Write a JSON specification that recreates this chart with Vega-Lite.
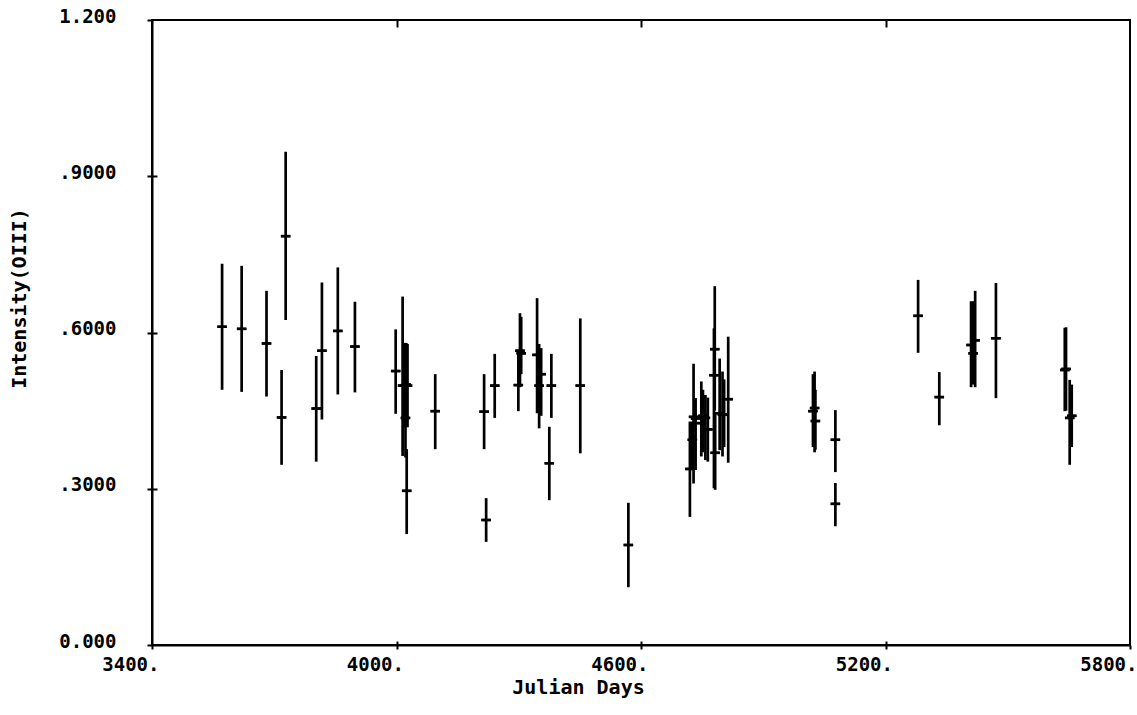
{
  "$schema": "https://vega.github.io/schema/vega-lite/v6.json",
  "width": 978,
  "height": 625,
  "autosize": {"type": "none"},
  "padding": {"left": 152, "top": 20, "right": 7, "bottom": 70},
  "background": "white",
  "config": {
    "view": {"stroke": "black", "strokeWidth": 2},
    "axis": {"grid": false, "domainColor": "black", "tickColor": "black", "labelColor": "black", "titleColor": "black",
      "labelFont": "DejaVu Sans Mono", "titleFont": "DejaVu Sans Mono", "labelFontWeight": "bold", "titleFontWeight": "bold",
      "labelFontSize": 19, "titleFontSize": 20, "domainWidth": 2, "tickWidth": 2}
  },
  "data": {"values": [
    {"jd": 3572, "mid": 0.611, "lo": 0.490, "hi": 0.732},
    {"jd": 3620, "mid": 0.607, "lo": 0.486, "hi": 0.728},
    {"jd": 3681, "mid": 0.579, "lo": 0.477, "hi": 0.680},
    {"jd": 3718, "mid": 0.437, "lo": 0.346, "hi": 0.528},
    {"jd": 3728, "mid": 0.785, "lo": 0.624, "hi": 0.947},
    {"jd": 3803, "mid": 0.454, "lo": 0.352, "hi": 0.555},
    {"jd": 3817, "mid": 0.565, "lo": 0.433, "hi": 0.696},
    {"jd": 3856, "mid": 0.603, "lo": 0.481, "hi": 0.725},
    {"jd": 3898, "mid": 0.573, "lo": 0.485, "hi": 0.659},
    {"jd": 3998, "mid": 0.526, "lo": 0.444, "hi": 0.606},
    {"jd": 4015, "mid": 0.498, "lo": 0.363, "hi": 0.669},
    {"jd": 4020, "mid": 0.498, "lo": 0.417, "hi": 0.580},
    {"jd": 4022, "mid": 0.436, "lo": 0.360, "hi": 0.510},
    {"jd": 4024, "mid": 0.500, "lo": 0.420, "hi": 0.580},
    {"jd": 4027, "mid": 0.498, "lo": 0.418, "hi": 0.578},
    {"jd": 4025, "mid": 0.296, "lo": 0.213, "hi": 0.376},
    {"jd": 4095, "mid": 0.449, "lo": 0.376, "hi": 0.520},
    {"jd": 4215, "mid": 0.448, "lo": 0.376, "hi": 0.520},
    {"jd": 4220, "mid": 0.240, "lo": 0.198, "hi": 0.282},
    {"jd": 4241, "mid": 0.498, "lo": 0.436, "hi": 0.559},
    {"jd": 4299, "mid": 0.499, "lo": 0.449, "hi": 0.565},
    {"jd": 4303, "mid": 0.565, "lo": 0.495, "hi": 0.637},
    {"jd": 4306, "mid": 0.560, "lo": 0.520, "hi": 0.630},
    {"jd": 4345, "mid": 0.557, "lo": 0.445, "hi": 0.666},
    {"jd": 4350, "mid": 0.498, "lo": 0.416, "hi": 0.578},
    {"jd": 4355, "mid": 0.520, "lo": 0.440, "hi": 0.570},
    {"jd": 4380, "mid": 0.498, "lo": 0.436, "hi": 0.559},
    {"jd": 4375, "mid": 0.349, "lo": 0.278, "hi": 0.419},
    {"jd": 4451, "mid": 0.498, "lo": 0.368, "hi": 0.627},
    {"jd": 4569, "mid": 0.192, "lo": 0.111, "hi": 0.273},
    {"jd": 4720, "mid": 0.338, "lo": 0.246, "hi": 0.429},
    {"jd": 4726, "mid": 0.394, "lo": 0.336, "hi": 0.429},
    {"jd": 4729, "mid": 0.438, "lo": 0.310, "hi": 0.540},
    {"jd": 4734, "mid": 0.435, "lo": 0.336, "hi": 0.474},
    {"jd": 4748, "mid": 0.426, "lo": 0.362, "hi": 0.506},
    {"jd": 4752, "mid": 0.440, "lo": 0.370, "hi": 0.490},
    {"jd": 4758, "mid": 0.436, "lo": 0.355, "hi": 0.480},
    {"jd": 4764, "mid": 0.414, "lo": 0.352, "hi": 0.475},
    {"jd": 4779, "mid": 0.518, "lo": 0.301, "hi": 0.608},
    {"jd": 4781, "mid": 0.568, "lo": 0.450, "hi": 0.689},
    {"jd": 4782, "mid": 0.369, "lo": 0.298, "hi": 0.445},
    {"jd": 4793, "mid": 0.445, "lo": 0.374, "hi": 0.550},
    {"jd": 4800, "mid": 0.442, "lo": 0.362, "hi": 0.525},
    {"jd": 4804, "mid": 0.443, "lo": 0.380, "hi": 0.510},
    {"jd": 4814, "mid": 0.472, "lo": 0.350, "hi": 0.592},
    {"jd": 5022, "mid": 0.449, "lo": 0.380, "hi": 0.520},
    {"jd": 5026, "mid": 0.455, "lo": 0.370, "hi": 0.525},
    {"jd": 5028, "mid": 0.430, "lo": 0.375, "hi": 0.490},
    {"jd": 5077, "mid": 0.394, "lo": 0.332, "hi": 0.451},
    {"jd": 5077, "mid": 0.271, "lo": 0.228, "hi": 0.311},
    {"jd": 5280, "mid": 0.632, "lo": 0.561, "hi": 0.701},
    {"jd": 5332, "mid": 0.476, "lo": 0.422, "hi": 0.524},
    {"jd": 5410, "mid": 0.576, "lo": 0.495, "hi": 0.660},
    {"jd": 5415, "mid": 0.560, "lo": 0.500, "hi": 0.660},
    {"jd": 5420, "mid": 0.585, "lo": 0.495, "hi": 0.680},
    {"jd": 5471, "mid": 0.589, "lo": 0.474, "hi": 0.695},
    {"jd": 5640, "mid": 0.528, "lo": 0.449, "hi": 0.609},
    {"jd": 5643, "mid": 0.530, "lo": 0.450, "hi": 0.610},
    {"jd": 5652, "mid": 0.436, "lo": 0.346, "hi": 0.509},
    {"jd": 5657, "mid": 0.440, "lo": 0.380, "hi": 0.500}
  ]},
  "resolve": {"scale": {"x": "independent", "y": "independent"}, "axis": {"x": "independent", "y": "independent"}},
  "layer": [
    {
      "mark": {"type": "rule", "color": "black", "strokeWidth": 2.7},
      "encoding": {
        "x": {"field": "jd", "type": "quantitative", "scale": {"domain": [3400, 5800], "nice": false, "zero": false},
          "axis": {"orient": "bottom", "values": [3400, 4000, 4600, 5200, 5800], "labelExpr": "format(datum.value, 'd') + '.'",
            "tickSize": 4, "labelPadding": 6, "labelAlign": "right", "labelOffset": 7, "labelFlush": false, "labelOverlap": false,
            "title": "Julian Days", "titleX": 426, "titleY": 42, "titleAlign": "center", "titleBaseline": "middle", "titleAnchor": null}},
        "y": {"field": "lo", "type": "quantitative", "scale": {"domain": [0, 1.2], "nice": false, "zero": false},
          "axis": {"orient": "left", "values": [0, 0.3, 0.6, 0.9, 1.2],
            "labelExpr": "datum.value == 0 ? '0.000' : datum.value > 1.1 ? '1.200' : substring(format(datum.value, '.4f'), 1)",
            "tickSize": 5, "labelPadding": 31, "labelBaseline": "alphabetic", "labelOffset": 2, "labelFlush": false, "labelOverlap": false,
            "title": "Intensity(OIII)", "titleX": -123, "titleY": 278, "titleBaseline": "bottom"}},
        "y2": {"field": "hi"}
      }
    },
    {
      "mark": {"type": "point", "shape": "stroke", "size": 90, "color": "black", "strokeWidth": 2.5, "opacity": 1, "filled": false},
      "encoding": {
        "x": {"field": "jd", "type": "quantitative", "scale": {"domain": [3400, 5800], "nice": false, "zero": false},
          "axis": {"orient": "bottom", "translate": -3.5, "tickOffset": 4, "values": [4000, 4600, 5200], "tickSize": 4,
            "labels": true, "labelExpr": "''", "domain": true, "domainOpacity": 0, "title": " ", "ticks": true}},
        "y": {"field": "mid", "type": "quantitative", "scale": {"domain": [0, 1.2], "nice": false, "zero": false},
          "axis": {"orient": "left", "translate": 5.5, "tickOffset": -5, "values": [0.3, 0.6, 0.9], "tickSize": 5,
            "labels": true, "labelExpr": "''", "domain": true, "domainOpacity": 0, "title": " ", "ticks": true}}
      }
    },
    {
      "mark": {"type": "point", "shape": "stroke", "size": 90, "color": "black", "strokeWidth": 2.5, "opacity": 1, "filled": false},
      "encoding": {
        "x": {"field": "jd", "type": "quantitative", "scale": {"domain": [3400, 5800], "nice": false, "zero": false},
          "axis": {"orient": "top", "translate": 7.5, "tickOffset": -7, "values": [4000, 4600, 5200], "tickSize": 7,
            "labels": true, "labelExpr": "''", "domain": true, "domainOpacity": 0, "title": " ", "ticks": true}},
        "y": {"field": "mid", "type": "quantitative", "scale": {"domain": [0, 1.2], "nice": false, "zero": false}, "axis": null}
      }
    }
  ]
}
